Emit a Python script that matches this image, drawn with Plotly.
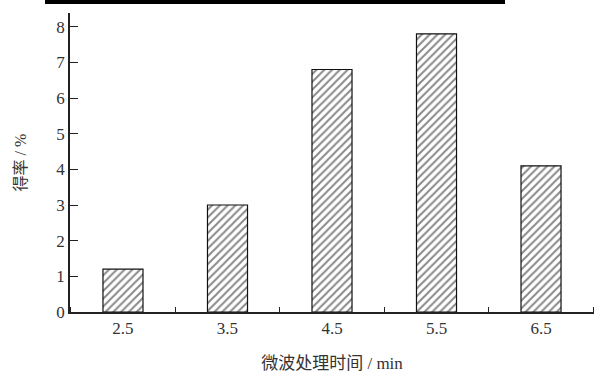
import plotly.graph_objects as go

categories = ["2.5", "3.5", "4.5", "5.5", "6.5"]
yield_pct = [1.2, 3.0, 6.8, 7.8, 4.1]
y_ticks = [0, 1, 2, 3, 4, 5, 6, 7, 8]

x_pos = list(range(len(categories)))

fig = go.Figure()
fig.add_trace(go.Bar(
    x=x_pos, y=yield_pct, width=0.383,
    marker=dict(color="white", line=dict(color="#111", width=1.2),
                pattern=dict(shape="/", fgcolor="#111", bgcolor="white", size=5.5, solidity=0.35)),
))

font_family = "Liberation Serif, Noto Sans CJK SC, serif"
fig.update_layout(
    width=595, height=374,
    margin=dict(l=70, r=1, t=13, b=62),
    paper_bgcolor="white", plot_bgcolor="white",
    showlegend=False,
    font=dict(family=font_family, color="#333", size=17),
    xaxis=dict(range=[-0.507, 4.507], tickvals=x_pos, ticktext=categories, ticks="",
               showline=True, linecolor="#222", linewidth=1.5, showgrid=False, zeroline=False,
               tickfont=dict(size=17),
               minor=dict(tick0=0.5, dtick=1, ticks="inside", ticklen=5, tickcolor="#222", tickwidth=1),
               title=dict(text="微波处理时间 / min", font=dict(size=17), standoff=20)),
    yaxis=dict(range=[0, 8.385], tickvals=y_ticks, ticks="inside", ticklen=8, tickcolor="#222",
               showline=True, linecolor="#222", linewidth=1.5, showgrid=False, zeroline=False,
               tickfont=dict(size=17),
               title=dict(text="得率 / %", font=dict(size=16), standoff=26)),
)
fig.add_shape(type="rect", xref="paper", yref="paper",
              x0=(45 - 70) / 524, x1=(505 - 70) / 524, y0=(312 - 4) / 299, y1=(312 + 1) / 299,
              fillcolor="black", line=dict(width=0), layer="above")
fig.write_html("out.html", config={"displayModeBar": False},
               post_script="document.body.style.margin='0';")
